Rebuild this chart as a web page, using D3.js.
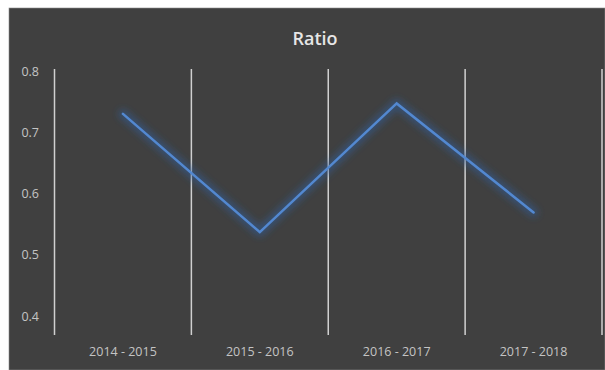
<!DOCTYPE html>
<html><head><meta charset="utf-8">
<script src="https://cdn.jsdelivr.net/npm/d3@7"></script>
<style>html,body{margin:0;padding:0;background:#fff;}svg{display:block;}</style>
</head><body>
<script>
const categories = ["2014 - 2015", "2015 - 2016", "2016 - 2017", "2017 - 2018"];
const ratioValues = [0.730, 0.537, 0.747, 0.569];
const yTicks = [0.4, 0.5, 0.6, 0.7, 0.8];
const title = "Ratio";

const W = 605, H = 370;
const svg = d3.select("body").append("svg").attr("width", W).attr("height", H);

const defs = svg.append("defs");
const f = defs.append("filter").attr("id", "glow").attr("x", "-20%").attr("y", "-20%").attr("width", "140%").attr("height", "140%");
f.append("feGaussianBlur").attr("in", "SourceGraphic").attr("stdDeviation", 3.5);

svg.append("rect").attr("x", 9).attr("y", 8).attr("width", W - 9).attr("height", H - 8)
  .attr("fill", "#404040").attr("stroke", "#8a8a8a").attr("stroke-width", 0.6);

const x = d3.scaleBand().domain(categories).range([54.5, 602]);
const y = d3.scaleLinear().domain([0.4, 0.8]).range([316, 71]);
const plotTop = 69, plotBottom = 335;

// vertical gridlines at category boundaries
const bounds = categories.map(c => x(c)).concat([x(categories[categories.length - 1]) + x.bandwidth()]);
svg.append("g").selectAll("line").data(bounds).join("line")
  .attr("x1", d => d).attr("x2", d => d).attr("y1", plotTop).attr("y2", plotBottom)
  .attr("stroke", "#d0d0d0").attr("stroke-width", 1.5);

const labelFont = "'Open Sans', 'DejaVu Sans', sans-serif";

// y axis labels
const yAxis = d3.axisLeft(y).tickValues(yTicks).tickFormat(d3.format(".1f")).tickSize(0).tickPadding(0);
const gy = svg.append("g").attr("transform", "translate(39,0)").call(yAxis);
gy.select(".domain").remove();
gy.selectAll("text").attr("fill", "#c4c4c4").style("font-family", labelFont).style("font-size", "12.5px");

// x axis labels
const xAxis = d3.axisBottom(x).tickSize(0).tickPadding(0);
const gx = svg.append("g").attr("transform", "translate(0,347)").call(xAxis);
gx.select(".domain").remove();
gx.selectAll("text").attr("fill", "#c4c4c4").style("font-family", labelFont).style("font-size", "12.5px");

// line with glow
const line = d3.line().x((d, i) => x(categories[i]) + x.bandwidth() / 2).y(d => y(d));
svg.append("path").datum(ratioValues).attr("d", line)
  .attr("fill", "none").attr("stroke", "#2f5f9e").attr("stroke-width", 9).attr("stroke-opacity", 0.55)
  .attr("stroke-linecap", "round").attr("stroke-linejoin", "round").attr("filter", "url(#glow)");
svg.append("path").datum(ratioValues).attr("d", line)
  .attr("fill", "none").attr("stroke", "#5388d0").attr("stroke-width", 2.5)
  .attr("stroke-linecap", "round").attr("stroke-linejoin", "miter");

// title
svg.append("text").attr("x", 315).attr("y", 45).attr("text-anchor", "middle")
  .attr("fill", "#e6e6e6").style("font-family", labelFont)
  .style("font-size", "18px").style("font-weight", "600").text(title);
</script>
</body></html>
